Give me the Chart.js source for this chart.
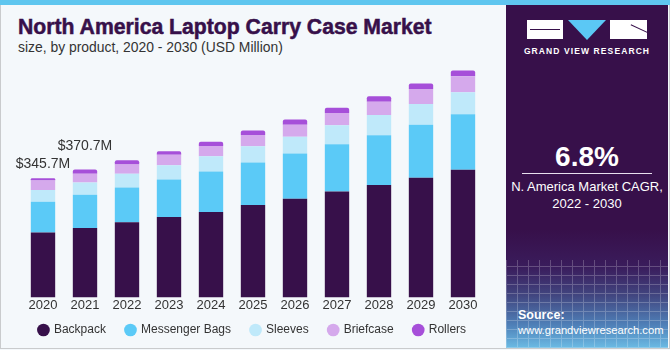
<!DOCTYPE html>
<html>
<head>
<meta charset="utf-8">
<script src="https://cdn.jsdelivr.net/npm/chart.js@4"></script>
<style>
  html, body { margin: 0; padding: 0; }
  body { width: 670px; height: 350px; position: relative; overflow: hidden; background: #f4f8fb; font-family: "Liberation Sans", Arial, sans-serif; }
  .frame { position: absolute; left: 0; top: 0; width: 668px; height: 348px; border: 1px solid #c9cbcd; border-top: none; }
  .strip { position: absolute; left: 0; top: 0; width: 670px; height: 5px; background: #5fc6ef; }
  .title { position: absolute; left: 18px; top: 15px; font-size: 21.2px; font-weight: bold; color: #37104a; -webkit-text-stroke: 0.5px #37104a; white-space: nowrap; }
  .subtitle { position: absolute; left: 18px; top: 39px; font-size: 13.9px; color: #333; white-space: nowrap; }
  .chart-box { position: absolute; left: 0; top: 0; width: 505px; height: 346px; }
  .panel { position: absolute; left: 506px; top: 5px; width: 162px; height: 343px;
    background: linear-gradient(to bottom, #37104a 0px, #37104a 225px, #3a1c5c 262px, #41457f 290px, #4f80b8 320px, #6bbbe4 343px); overflow: hidden; }
  .grid { position: absolute; left: 0; top: 255px; width: 162px; height: 88px; opacity: 0.22;
    background-image: repeating-linear-gradient(90deg, #fff 0 1px, transparent 1px 11px), repeating-linear-gradient(0deg, #fff 0 1px, transparent 1px 9px); }
  .logo-g { position: absolute; left: 21px; top: 15px; width: 36px; height: 19px; background: #fff; }
  .logo-g::after { content: ""; position: absolute; left: 3px; top: 9px; width: 30px; height: 1px; background: #37104a; }
  .logo-v { position: absolute; left: 62px; top: 15px; width: 0; height: 0; border-left: 19px solid transparent; border-right: 19px solid transparent; border-top: 20px solid #5bc8f5; }
  .logo-r { position: absolute; left: 104px; top: 15px; width: 37px; height: 19px; background: #fff; overflow: hidden; }
  .logo-r::after { content: ""; position: absolute; left: 20px; top: 8px; width: 18px; height: 1px; background: #37104a; transform: rotate(25deg); }
  .brand { position: absolute; left: 0; top: 41px; width: 162px; text-align: center; color: #fff; font-size: 8.5px; font-weight: bold; letter-spacing: 1.1px; }
  .cagr { position: absolute; left: 0; top: 136px; width: 162px; text-align: center; color: #fff; font-size: 28px; font-weight: bold; }
  .rule { position: absolute; left: 16px; top: 168px; width: 130px; height: 1px; background: #e8e0ee; }
  .cagr-text { position: absolute; left: 0; top: 173px; width: 162px; text-align: center; color: #fff; font-size: 13px; line-height: 17px; }
  .source { position: absolute; left: 12px; top: 303px; color: #fff; font-size: 11.2px; line-height: 14.5px; }
  .source b { font-size: 12.5px; }
</style>
</head>
<body>
<div class="frame"></div>
<div class="strip"></div>
<div class="title">North America Laptop Carry Case Market</div>
<div class="subtitle">size, by product, 2020 - 2030 (USD Million)</div>
<div class="chart-box"><canvas id="market-chart"></canvas></div>
<div class="panel">
  <div class="grid"></div>
  <div class="logo-g"></div>
  <div class="logo-v"></div>
  <div class="logo-r"></div>
  <div class="brand">GRAND VIEW RESEARCH</div>
  <div class="cagr">6.8%</div>
  <div class="rule"></div>
  <div class="cagr-text">N. America Market CAGR,<br>2022 - 2030</div>
  <div class="source"><b>Source:</b><br>www.grandviewresearch.com</div>
</div>
<script>
const years = ["2020", "2021", "2022", "2023", "2024", "2025", "2026", "2027", "2028", "2029", "2030"];
const backpack = [188, 201, 218, 233, 248, 268, 286, 307, 326, 347, 370];
const messengerBags = [89, 96.4, 100.5, 109, 117, 123, 131, 137, 144, 154, 161];
const sleeves = [34.4, 36, 40, 41, 44, 47, 49, 55, 59, 60, 64];
const briefcase = [27.4, 25.4, 27.2, 31, 30, 33, 35, 36, 38, 43, 46];
const rollers = [6.9, 11.9, 11.7, 10, 12, 13, 15, 15, 16, 16, 17];
const labelledYears = ["2020", "2021"];

// totals written above the first two bars
const totalLabels = {
  id: "totalLabels",
  afterDatasetsDraw(chart) {
    const ctx = chart.ctx;
    const meta = chart.getDatasetMeta(chart.data.datasets.length - 1);
    ctx.save();
    ctx.font = "14px 'Liberation Sans', Arial, sans-serif";
    ctx.fillStyle = "#333";
    ctx.textAlign = "center";
    ctx.textBaseline = "alphabetic";
    labelledYears.forEach((yr, n) => {
      const i = years.indexOf(yr);
      const total = chart.data.datasets.reduce((s, d) => s + d.data[i], 0);
      const bar = meta.data[i];
      const lift = n === 0 ? 10 : 19.5;
      ctx.fillText("$" + total.toFixed(1) + "M", bar.x, bar.y - lift);
    });
    ctx.restore();
  },
};

// invisible side axes just hold the gutters, so the legend keeps the full width
const gutter = (w) => ({
  display: true,
  grid: { display: false },
  border: { display: false },
  ticks: { display: false },
  afterFit(scale) {
    scale.width = w;
  },
});

function createChart() {
  const canvas = document.getElementById("market-chart");
  new Chart(canvas, {
    type: "bar",
    data: {
      labels: years,
      datasets: [
        { label: "Backpack", data: backpack, backgroundColor: "#37104a" },
        { label: "Messenger Bags", data: messengerBags, backgroundColor: "#5bcaf7" },
        { label: "Sleeves", data: sleeves, backgroundColor: "#bfe9fa" },
        { label: "Briefcase", data: briefcase, backgroundColor: "#d5a9ec" },
        {
          label: "Rollers",
          data: rollers,
          backgroundColor: "#a64fd9",
          borderRadius: { topLeft: 2, topRight: 2 },
          borderSkipped: "start",
        },
      ],
    },
    options: {
      responsive: true,
      maintainAspectRatio: false,
      animation: false,
      barPercentage: 0.58,
      categoryPercentage: 1,
      layout: {
        padding: { left: 0, right: 0, top: 56, bottom: 0 },
      },
      plugins: {
        legend: {
          position: "bottom",
          // empty title with negative padding pulls the legend row up towards the axis
          title: { display: true, text: "", font: { size: 1 }, padding: { top: 0, bottom: -10.2 } },
          labels: {
            usePointStyle: true,
            pointStyle: "circle",
            boxWidth: 9,
            boxHeight: 9,
            padding: 20,
            color: "#333",
            font: { family: "'Liberation Sans', Arial, sans-serif", size: 12 },
          },
        },
        tooltip: { enabled: false },
      },
      scales: {
        x: {
          stacked: true,
          grid: { display: false, drawTicks: false },
          border: { display: false },
          ticks: {
            color: "#333",
            padding: 0,
            font: { family: "'Liberation Sans', Arial, sans-serif", size: 13 },
          },
        },
        y: Object.assign(gutter(22), { stacked: true, min: 0, max: 700 }),
        yRight: Object.assign(gutter(21), { position: "right", min: 0, max: 700 }),
      },
    },
    plugins: [totalLabels],
  });
}

createChart();
</script>
</body>
</html>
